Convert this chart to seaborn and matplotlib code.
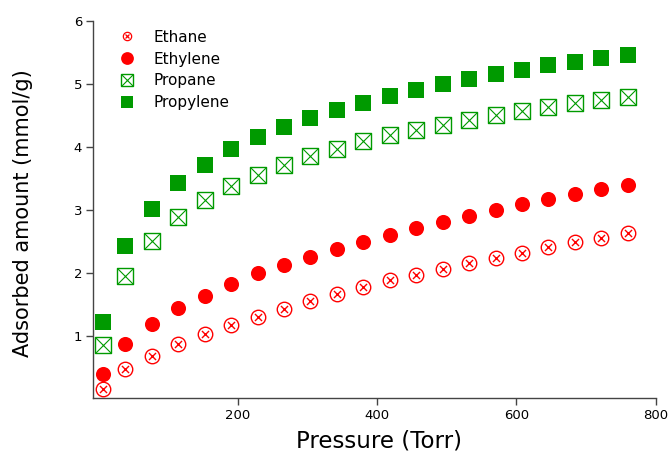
import matplotlib
matplotlib.use("Agg")
import matplotlib.pyplot as plt
import seaborn as sns
import pandas as pd
from matplotlib.lines import Line2D

# ---- data ----
pressure = [6, 38, 76, 114, 152, 190, 228, 266, 304, 342, 380, 418, 456, 494,
            532, 570, 608, 646, 684, 722, 760]
ethane = [0.16, 0.48, 0.68, 0.87, 1.03, 1.17, 1.30, 1.43, 1.55, 1.67, 1.77,
          1.88, 1.97, 2.06, 2.15, 2.24, 2.32, 2.41, 2.49, 2.56, 2.63]
ethylene = [0.40, 0.87, 1.19, 1.44, 1.64, 1.82, 1.99, 2.13, 2.25, 2.38, 2.49,
            2.60, 2.71, 2.81, 2.90, 3.00, 3.09, 3.17, 3.25, 3.33, 3.40]
propane = [0.86, 1.95, 2.51, 2.89, 3.16, 3.37, 3.55, 3.71, 3.85, 3.97, 4.09,
           4.19, 4.27, 4.35, 4.43, 4.50, 4.57, 4.63, 4.69, 4.74, 4.79]
propylene = [1.22, 2.42, 3.02, 3.42, 3.71, 3.96, 4.15, 4.31, 4.45, 4.58, 4.70,
             4.81, 4.90, 4.99, 5.08, 5.16, 5.22, 5.29, 5.35, 5.41, 5.46]
labels = ["Ethane", "Ethylene", "Propane", "Propylene"]
x_ticks = [200, 400, 600, 800]
y_ticks = [1, 2, 3, 4, 5, 6]

df = pd.DataFrame({"pressure": pressure, "Ethane": ethane, "Ethylene": ethylene,
                   "Propane": propane, "Propylene": propylene})

sns.set_style("ticks")
plt.rcParams["font.family"] = ["DejaVu Sans"]
plt.rcParams["text.color"] = "black"
plt.rcParams["axes.labelcolor"] = "black"

RED = "#ff0000"
GREEN = "#009a00"
S = 118  # marker area (pt^2)

fig = plt.figure(figsize=(6.71, 4.51), dpi=100)
ax = fig.add_axes([0.139, 0.1175, 0.838, 0.837])

# Propylene: filled squares
sns.scatterplot(data=df, x="pressure", y="Propylene", marker="s", s=S,
                color=GREEN, edgecolor=GREEN, linewidth=0, ax=ax, zorder=3)
# Propane: open squares with an X
sns.scatterplot(data=df, x="pressure", y="Propane", marker="s", s=S,
                facecolor="white", edgecolor=GREEN, linewidth=1.0, ax=ax, zorder=3)
sns.scatterplot(data=df, x="pressure", y="Propane", marker="x", s=S,
                color=GREEN, linewidth=0.8, ax=ax, zorder=4)
# Ethylene: filled circles
sns.scatterplot(data=df, x="pressure", y="Ethylene", marker="o", s=S,
                color=RED, edgecolor=RED, linewidth=0, ax=ax, zorder=3)
# Ethane: open circles with an x
sns.scatterplot(data=df, x="pressure", y="Ethane", marker="o", s=S * 0.92,
                facecolor="white", edgecolor=RED, linewidth=1.0, ax=ax, zorder=3)
sns.scatterplot(data=df, x="pressure", y="Ethane", marker="x", s=S * 0.22,
                color=RED, linewidth=1.0, ax=ax, zorder=4)

ax.set_xlim(-8.2, 800)
ax.set_ylim(0.016, 6)
ax.set_xticks(x_ticks)
ax.set_yticks(y_ticks)
ax.set_xticklabels([str(t) for t in x_ticks])
ax.set_yticklabels([str(t) for t in y_ticks])

sns.despine(ax=ax)
for sp in ("left", "bottom"):
    ax.spines[sp].set_color("#444444")
    ax.spines[sp].set_linewidth(1.0)
ax.tick_params(axis="both", direction="out", length=5, width=1, color="#444444",
               labelsize=9.5, labelcolor="black", pad=3)

ax.set_xlabel("Pressure (Torr)", fontsize=16.5)
ax.xaxis.label.set_va("baseline")
ax.xaxis.set_label_coords(0.508, -0.1298)
ax.set_ylabel("Adsorbed amount (mmol/g)", fontsize=15)
ax.yaxis.set_label_coords(-0.107, 0.49)

# legend
h_ethane = (Line2D([], [], marker="o", ls="", ms=6, mfc="white", mec=RED, mew=0.9),
            Line2D([], [], marker="x", ms=3, ls="", color=RED, mew=0.9))
h_ethylene = Line2D([], [], marker="o", ls="", ms=9.2, color=RED, mew=0)
h_propane = (Line2D([], [], marker="s", ls="", ms=8.6, mfc="white", mec=GREEN, mew=1.0),
             Line2D([], [], marker="x", ls="", ms=8.6, color=GREEN, mew=0.8))
h_propylene = Line2D([], [], marker="s", ls="", ms=8.6, color=GREEN, mew=0)
ax.legend([h_ethane, h_ethylene, h_propane, h_propylene], labels,
          loc="upper left", bbox_to_anchor=(0.169, 0.9476),
          bbox_transform=fig.transFigure, frameon=False, fontsize=11,
          handlelength=1.0, handletextpad=1.2, labelspacing=0.45,
          borderaxespad=0)

fig.savefig("out.png", dpi=100)
